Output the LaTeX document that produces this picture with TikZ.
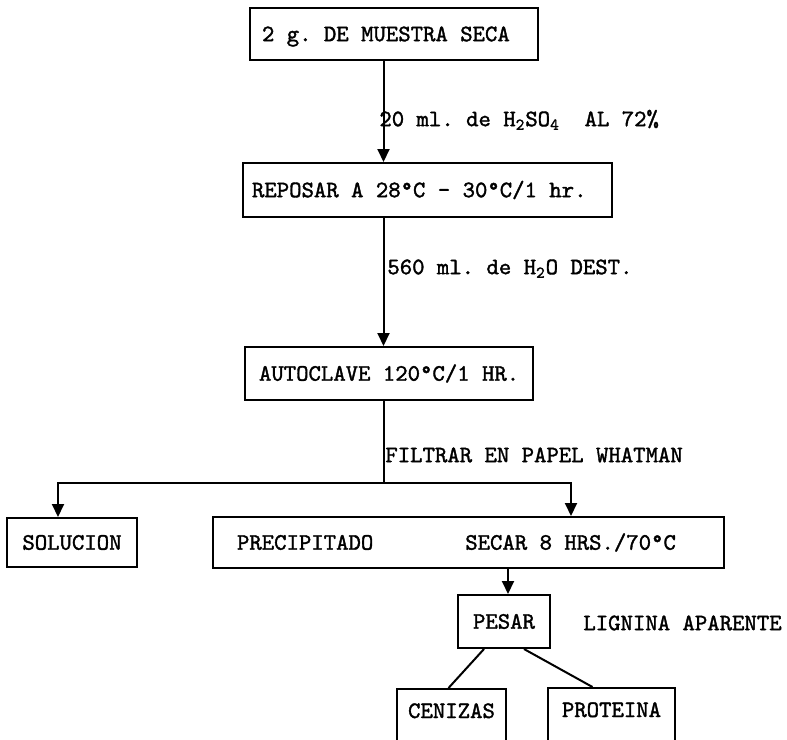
\documentclass[tikz,border=0pt]{standalone}
\usepackage{fontspec}
\newfontfamily\typew{lmmono10-regular.otf}[FakeBold=1.5]
\usetikzlibrary{arrows.meta,calc}
\newcommand\tw[1]{\mbox{\spaceskip=0pt\xspaceskip=0pt #1}}
\begin{document}
\frenchspacing
\begin{tikzpicture}[x=0.5pt,y=-0.5pt,
  font=\fontsize{11.8pt}{14pt}\typew\frenchspacing,
  box/.style={draw,line width=1pt,inner ysep=0pt,text height=7.2pt,text depth=0pt},
  lbox/.style={box,align=left},
  obox/.style={draw,line width=1pt,inner ysep=0pt,text height=14.5pt,text depth=20pt,anchor=north},
  lab/.style={anchor=west,inner sep=0pt,text height=7.2pt,text depth=0pt},
  arr/.style={line width=1pt,-{Triangle[length=6.5pt,width=6pt]}},
  ln/.style={line width=1pt}]
\useasboundingbox (0,0) rectangle (787,739);
\clip (0,0) rectangle (787,739);
\fill[white] (0,0) rectangle (787,739);

% boxes
\node[lbox,inner xsep=6pt,text width=132pt,minimum height=26pt] (b1) at (394,34) {\tw{2 g. DE MUESTRA SECA}};
\node[lbox,inner xsep=4.5pt,text width=175.5pt,minimum height=27pt] (b2) at (427.5,190) {\tw{REPOSAR A 28°C - 30°C/1 hr.}};
\node[lbox,inner xsep=7pt,text width=130pt,minimum height=26.5pt] (b3) at (389,373.5) {\tw{AUTOCLAVE 120°C/1 HR.}};
\node[box,minimum width=65pt,minimum height=24.5pt] (sol) at (72,542.5) {SOLUCION};
\node[lbox,inner xsep=12pt,text width=231.5pt,minimum height=25.5pt] (prec) at (468.5,542.5) {\tw{PRECIPITADO\hspace*{46pt}SECAR 8 HRS./70°C}};
\node[box,minimum width=46pt,minimum height=26.5pt] (pesar) at (504,621.5) {PESAR};
\node[obox,minimum width=54.5pt] (cen) at (451.5,688) {CENIZAS};
\node[obox,minimum width=63.5pt] (prot) at (611.5,687) {PROTEINA};

% labels
\node[lab] (l1) at (379,119) {20 ml. de H\textsubscript{2}SO\textsubscript{4}\ \ AL 72\%};
\node[lab] (l2) at (387,267) {560 ml. de H\textsubscript{2}O DEST.};
\node[lab] (l3) at (385,455) {FILTRAR EN PAPEL WHATMAN};
\node[lab] (l4) at (583,623) {LIGNINA APARENTE};

% helper coordinates
\coordinate (cx) at (383.5,0);
\coordinate (split) at (383.5,483);
\coordinate (cl) at (58,0);
\coordinate (cr) at (571,0);
\coordinate (cp) at (508,0);

% connectors
\draw[arr] (b1.south -| cx) -- (b2.north -| cx);
\draw[arr] (b2.south -| cx) -- (b3.north -| cx);
\draw[ln] (b3.south -| cx) -- (split);
\draw[arr] (split) -| (sol.north -| cl);
\draw[arr] (split) -| (prec.north -| cr);
\draw[arr] (prec.south -| cp) -- (pesar.north -| cp);
\draw[ln] (pesar.-126) -- ($(cen.north)+(-3,0)$);
\draw[ln] (pesar.-54) -- ($(prot.north)+(-19,0)$);
\end{tikzpicture}
\end{document}
